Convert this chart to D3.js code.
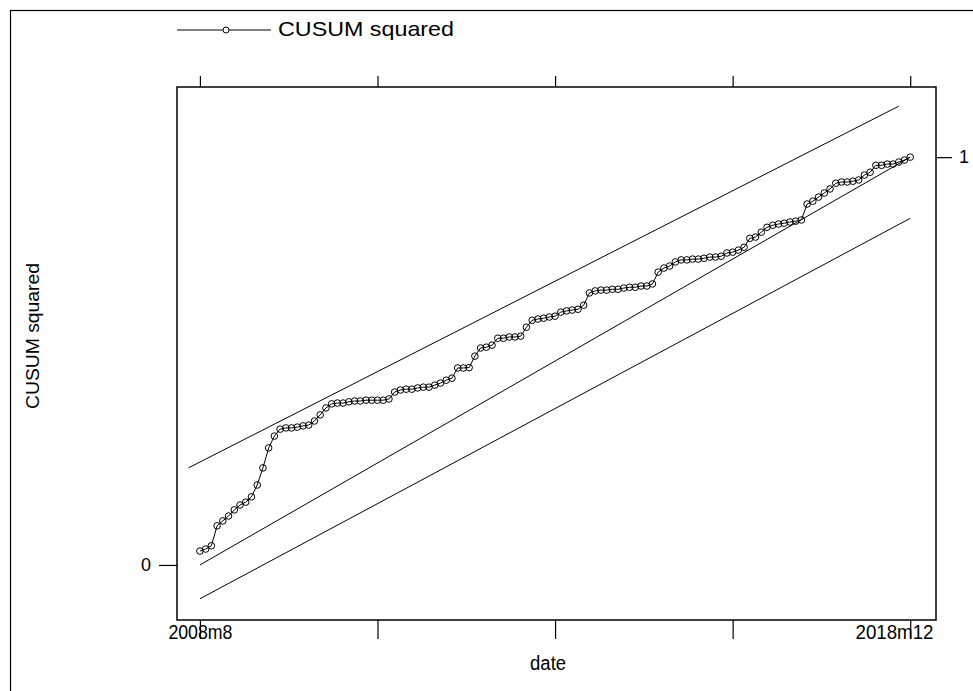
<!DOCTYPE html>
<html lang="en">
<head>
<meta charset="UTF-8">
<script src="https://d3js.org/d3.v7.min.js"></script>
<style>
  body { margin: 0; background: #fff; }
  text { font-family: "Liberation Sans", Arial, sans-serif; fill: #000; }
</style>
</head>
<body>
<div id="here"></div>
<script>
// months counted from 2008m8 (index 0) to 2018m12 (index 124)
const tickMonths = [0, 31, 62, 93, 124];
const tickLabels = ["2008m8", "", "", "", "2018m12"];

// CUSUM squared, one value per month
const cusumsq = [
  0.034, 0.039, 0.047, 0.096, 0.108, 0.120, 0.135, 0.147, 0.154, 0.167,
  0.196, 0.238, 0.287, 0.316, 0.333, 0.336, 0.336, 0.338, 0.341, 0.343,
  0.353, 0.368, 0.385, 0.395, 0.397, 0.397, 0.400, 0.402, 0.402, 0.404,
  0.404, 0.404, 0.404, 0.407, 0.424, 0.429, 0.431, 0.431, 0.434, 0.436,
  0.436, 0.441, 0.446, 0.453, 0.458, 0.483, 0.483, 0.484, 0.512, 0.532,
  0.534, 0.539, 0.556, 0.556, 0.559, 0.559, 0.561, 0.583, 0.600, 0.603,
  0.605, 0.608, 0.610, 0.620, 0.623, 0.625, 0.627, 0.637, 0.667, 0.672,
  0.674, 0.674, 0.676, 0.676, 0.679, 0.681, 0.681, 0.684, 0.684, 0.689,
  0.718, 0.728, 0.733, 0.743, 0.748, 0.748, 0.750, 0.750, 0.752, 0.755,
  0.755, 0.757, 0.765, 0.767, 0.772, 0.779, 0.801, 0.804, 0.816, 0.828,
  0.833, 0.836, 0.838, 0.841, 0.843, 0.846, 0.885, 0.892, 0.902, 0.912,
  0.922, 0.936, 0.939, 0.939, 0.941, 0.944, 0.956, 0.963, 0.980, 0.980,
  0.983, 0.983, 0.988, 0.993, 1.000
];

// straight reference lines: [month, value] end points
const upperLine = [[-2, 0.238], [122, 1.125]];
const expectedLine = [[0, 0], [124, 1]];
const lowerLine = [[0, -0.083], [124, 0.850]];

const W = 973, H = 691;
const box = { left: 177, right: 936, top: 87, bottom: 620 };

const svg = d3.select("#here").append("svg")
  .attr("width", W).attr("height", H);

// outer frame
svg.append("rect")
  .attr("x", 10.5).attr("y", 10.5)
  .attr("width", 1000).attr("height", 1000)
  .attr("fill", "none").attr("stroke", "#000").attr("stroke-width", 1.2);

const x = d3.scaleLinear().domain([-4.0, 128.5]).range([box.left, box.right]);
const y = d3.scaleLinear().domain([-0.135, 1.172]).range([box.bottom, box.top]);

// plot box
svg.append("rect")
  .attr("x", box.left).attr("y", box.top)
  .attr("width", box.right - box.left).attr("height", box.bottom - box.top)
  .attr("fill", "none").attr("stroke", "#000").attr("stroke-width", 1.5);

// bottom axis (labels squeezed to look like a narrow face)
const labelWidth = [64, 0, 0, 0, 78];
const xb = svg.append("g")
  .attr("transform", `translate(0,${box.bottom})`)
  .call(d3.axisBottom(x).tickValues(tickMonths).tickSize(19).tickSizeOuter(0)
    .tickFormat((d, i) => tickLabels[i]));
xb.select(".domain").remove();
xb.selectAll("text")
  .attr("y", 5).attr("dy", "0.71em")
  .style("font-size", "20px")
  .attr("textLength", (d, i) => labelWidth[i] || null)
  .attr("lengthAdjust", "spacingAndGlyphs")
  .attr("text-anchor", (d, i) => i === tickLabels.length - 1 ? "end" : "middle")
  .attr("dx", (d, i) => i === tickLabels.length - 1 ? (box.right - 3 - x(d)) : 0);

// top axis, ticks only
const xt = svg.append("g")
  .attr("transform", `translate(0,${box.top})`)
  .call(d3.axisTop(x).tickValues(tickMonths).tickSize(11).tickSizeOuter(0).tickFormat(""));
xt.select(".domain").remove();

// left axis: 0
const yl = svg.append("g")
  .attr("transform", `translate(${box.left},0)`)
  .call(d3.axisLeft(y).tickValues([0]).tickSize(18).tickSizeOuter(0).tickFormat(d3.format("d")));
yl.select(".domain").remove();
yl.selectAll("text").attr("x", -26).style("font-size", "18px");

// right axis: 1
const yr = svg.append("g")
  .attr("transform", `translate(${box.right},0)`)
  .call(d3.axisRight(y).tickValues([1]).tickSize(16).tickSizeOuter(0).tickFormat(d3.format("d")));
yr.select(".domain").remove();
yr.selectAll("text").attr("x", 23).style("font-size", "18px");

svg.selectAll(".tick text").style("font-family", '"Liberation Sans", Arial, sans-serif');
svg.selectAll(".tick line").attr("stroke", "#000").attr("stroke-width", 1.2);

// reference lines
const line = d3.line().x(d => x(d[0])).y(d => y(d[1]));
[upperLine, expectedLine, lowerLine].forEach(l => {
  svg.append("path").attr("d", line(l))
    .attr("fill", "none").attr("stroke", "#000").attr("stroke-width", 1);
});

// CUSUM squared series
const pts = cusumsq.map((v, i) => [i, v]);
svg.append("path").attr("d", line(pts))
  .attr("fill", "none").attr("stroke", "#000").attr("stroke-width", 1);
svg.selectAll("circle.pt").data(pts).join("circle")
  .attr("class", "pt")
  .attr("cx", d => x(d[0])).attr("cy", d => y(d[1])).attr("r", 3.3)
  .attr("fill", "none").attr("stroke", "#000").attr("stroke-width", 1);

// axis titles
svg.append("text")
  .attr("x", (x(0) + x(124)) / 2 - 7).attr("y", 670)
  .attr("text-anchor", "middle").style("font-size", "20px")
  .attr("textLength", 36).attr("lengthAdjust", "spacingAndGlyphs")
  .text("date");
svg.append("text")
  .attr("transform", "translate(39,336) rotate(-90)")
  .attr("text-anchor", "middle").style("font-size", "18px")
  .attr("textLength", 146).attr("lengthAdjust", "spacingAndGlyphs")
  .text("CUSUM squared");

// legend
svg.append("line").attr("x1", 177).attr("x2", 271).attr("y1", 30).attr("y2", 30)
  .attr("stroke", "#000").attr("stroke-width", 1);
svg.append("circle").attr("cx", 226).attr("cy", 30).attr("r", 3)
  .attr("fill", "#fff").attr("stroke", "#000").attr("stroke-width", 1);
svg.append("text").attr("x", 278).attr("y", 36)
  .style("font-size", "21px")
  .attr("textLength", 176).attr("lengthAdjust", "spacingAndGlyphs")
  .text("CUSUM squared");
</script>
</body>
</html>
